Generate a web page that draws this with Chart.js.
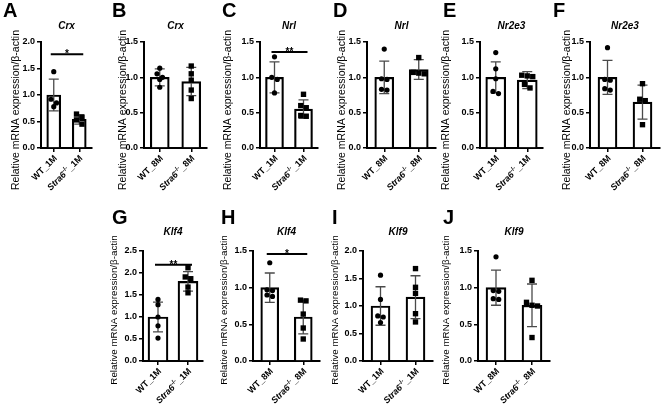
<!DOCTYPE html>
<html>
<head>
<meta charset="utf-8">
<script src="https://cdn.jsdelivr.net/npm/chart.js@4.4.1/dist/chart.umd.min.js"></script>
<style>
    html, body { margin: 0; padding: 0; background: #fff; }
    #fig { position: relative; width: 666px; height: 408px; overflow: hidden; }
    #fig canvas { position: absolute; }
</style>
</head>
<body>
<div id="fig"></div>
<script>
// panel data
const panelLetters = ["A", "B", "C", "D", "E", "F", "G", "H", "I", "J"];
const genes = ["Crx", "Crx", "Nrl", "Nrl", "Nr2e3", "Nr2e3", "Klf4", "Klf4", "Klf9", "Klf9"];
const wtLabels = ["WT_1M", "WT_8M", "WT_1M", "WT_8M", "WT_1M", "WT_8M", "WT_1M", "WT_8M", "WT_1M", "WT_8M"];
const koLabels = ["Stra6-/-_1M", "Stra6-/-_8M", "Stra6-/-_1M", "Stra6-/-_8M", "Stra6-/-_1M",
                  "Stra6-/-_8M", "Stra6-/-_1M", "Stra6-/-_8M", "Stra6-/-_1M", "Stra6-/-_8M"];
const yMax = [2.0, 1.5, 1.5, 1.5, 1.5, 1.5, 2.5, 1.5, 2.0, 1.5];
const yStep = 0.5;

const wtMean = [1.00, 1.00, 1.00, 1.00, 1.00, 1.00, 1.00, 1.00, 1.00, 1.00];
const wtSD = [0.30, 0.12, 0.22, 0.23, 0.22, 0.24, 0.34, 0.20, 0.35, 0.24];
const koMean = [0.54, 0.94, 0.55, 1.11, 0.96, 0.65, 1.81, 0.60, 1.16, 0.76];
const koSD = [0.09, 0.20, 0.13, 0.14, 0.12, 0.24, 0.22, 0.23, 0.39, 0.29];

const wtPoints = [
    [1.44, 0.92, 0.85, 0.78],
    [1.13, 1.05, 1.00, 0.97, 0.86],
    [1.29, 1.00, 0.97, 0.78],
    [1.40, 0.98, 0.97, 0.83, 0.82],
    [1.35, 1.12, 0.98, 0.80, 0.77],
    [1.42, 0.97, 0.96, 0.84, 0.82],
    [1.40, 1.28, 1.00, 0.80, 0.52],
    [1.34, 0.97, 0.96, 0.90, 0.88],
    [1.56, 1.12, 0.82, 0.80, 0.70],
    [1.42, 0.96, 0.95, 0.85, 0.84],
];
const koPoints = [
    [0.64, 0.58, 0.53, 0.45],
    [1.16, 1.05, 0.96, 0.82, 0.70],
    [0.76, 0.60, 0.57, 0.46, 0.45],
    [1.28, 1.07, 1.06, 1.05],
    [1.03, 1.02, 1.01, 0.90, 0.85],
    [0.91, 0.69, 0.67, 0.33],
    [2.12, 1.91, 1.87, 1.68, 1.55],
    [0.83, 0.82, 0.64, 0.45, 0.30],
    [1.68, 1.34, 1.23, 0.86, 0.71],
    [1.10, 0.80, 0.76, 0.75, 0.32],
];

const sigText = ["*", "", "**", "", "", "", "**", "*", "", ""];
const sigLevel = [1.77, null, 1.36, null, null, null, 2.19, 1.46, null, null];

// layout (pixels in the 666x408 figure)
const slotLeft = [0, 110, 220, 330, 440, 550, 110, 220, 330, 440];
const slotTop = [0, 0, 0, 0, 0, 0, 200, 200, 200, 200];
const axisX = [41, 144, 260, 367, 480, 590, 143, 253, 363, 478];
const axisEnd = [92, 207, 318, 436, 543, 660, 203, 320, 433, 550];
const yTitleX = [16, 123, 228, 342, 446, 567, 114, 224, 335, 446];
const letterX = [3, 112, 222, 333, 443, 553, 112, 221, 332, 443];
const barWidth = [14, 19, 18, 19, 20, 19, 20, 18, 19, 20];

const FONT = '"Liberation Sans", Arial, Helvetica, sans-serif';

function rowLayout(top) {
    return top === 0
        ? { plotTop: 42, plotBottom: 148, letterY: 17, titleY: 29, yTitleY: 110, yTitleSize: 10.5, height: 200 }
        : { plotTop: 251, plotBottom: 361, letterY: 224, titleY: 235, yTitleY: 310, yTitleSize: 9.8, height: 208 };
}

// spread points that sit on about the same height side by side
function swarm(values, pxPerVal, pxPerCat) {
    const order = values.map((v, k) => k).sort((a, b) => values[b] - values[a]);
    const offsets = new Array(values.length).fill(0);
    let row = [];
    const flush = () => {
        row.forEach((k, n) => {
            offsets[k] = (n - (row.length - 1) / 2) * 5.5 / pxPerCat;
        });
        row = [];
    };
    order.forEach(k => {
        if (row.length && (values[row[0]] - values[k]) * pxPerVal > 4.5)
            flush();
        row.push(k);
    });
    flush();
    return offsets;
}

function drawCategoryLabel(ctx, text, x, y) {
    const m = text.match(/^(Stra6)(-\/-)(.*)$/);
    ctx.save();
    ctx.translate(x, y);
    ctx.rotate(-Math.PI / 4);
    ctx.fillStyle = "#000";
    ctx.textBaseline = "middle";
    if (!m) {
        ctx.font = "bold 9px " + FONT;
        ctx.textAlign = "right";
        ctx.fillText(text, 0, 0);
        ctx.restore();
        return;
    }
    const parts = [
        { t: m[1], font: "italic bold 9px " + FONT, dy: 0 },
        { t: m[2], font: "bold 6px " + FONT, dy: -3 },
        { t: m[3], font: "bold 9px " + FONT, dy: 0 },
    ];
    let total = 0;
    parts.forEach(p => {
        ctx.font = p.font;
        p.w = ctx.measureText(p.t).width;
        total += p.w;
    });
    ctx.textAlign = "left";
    let cx = -total;
    parts.forEach(p => {
        ctx.font = p.font;
        ctx.fillText(p.t, cx, p.dy);
        cx += p.w;
    });
    ctx.restore();
}

const panelDecor = {
    id: "panelDecor",
    afterDatasetDraw(chart, args, opts) {
        if (args.index !== 0)
            return;
        const i = opts.panel;
        const ctx = chart.ctx;
        const xs = chart.scales.x, ys = chart.scales.y;
        const means = [wtMean[i], koMean[i]];
        const sds = [wtSD[i], koSD[i]];
        ctx.save();
        ctx.strokeStyle = "#4a4a4a";
        ctx.lineWidth = 1.3;
        for (let j = 0; j < 2; j++) {
            const x = xs.getPixelForValue(j);
            const y1 = ys.getPixelForValue(means[j] + sds[j]);
            const y2 = ys.getPixelForValue(means[j] - sds[j]);
            ctx.beginPath();
            ctx.moveTo(x, y1); ctx.lineTo(x, y2);
            ctx.moveTo(x - 5, y1); ctx.lineTo(x + 5, y1);
            ctx.moveTo(x - 5, y2); ctx.lineTo(x + 5, y2);
            ctx.stroke();
        }
        ctx.restore();
    },
    afterDraw(chart, args, opts) {
        const i = opts.panel;
        const ctx = chart.ctx;
        const area = chart.chartArea;
        const xs = chart.scales.x, ys = chart.scales.y;
        const L = slotLeft[i], T = slotTop[i];
        const row = rowLayout(T);

        ctx.save();
        ctx.fillStyle = "#000";
        ctx.textAlign = "left";
        ctx.textBaseline = "alphabetic";
        ctx.font = "bold 20px " + FONT;
        ctx.fillText(panelLetters[i], letterX[i] - L, row.letterY - T);

        ctx.textAlign = "center";
        ctx.font = "italic bold 10px " + FONT;
        ctx.fillText(genes[i], (area.left + area.right) / 2, row.titleY - T);

        ctx.save();
        ctx.translate(yTitleX[i] - L, row.yTitleY - T);
        ctx.rotate(-Math.PI / 2);
        ctx.textBaseline = "middle";
        ctx.font = row.yTitleSize + "px " + FONT;
        ctx.fillText("Relative mRNA expression/\u03b2-actin", 0, 0);
        ctx.restore();

        const labels = [wtLabels[i], koLabels[i]];
        labels.forEach((t, j) => {
            drawCategoryLabel(ctx, t, xs.getPixelForValue(j) + 2, area.bottom + 9);
        });

        if (sigLevel[i] !== null) {
            const y = ys.getPixelForValue(sigLevel[i]);
            const x1 = xs.getPixelForValue(0) - 3;
            const x2 = xs.getPixelForValue(1) + 4;
            ctx.strokeStyle = "#000";
            ctx.lineWidth = 2;
            ctx.beginPath();
            ctx.moveTo(x1, y); ctx.lineTo(x2, y);
            ctx.stroke();
            ctx.font = "bold 10px " + FONT;
            ctx.textAlign = "center";
            ctx.fillText(sigText[i], (x1 + x2) / 2, y + 3);
        }
        ctx.restore();
    }
};

function makePanel(i) {
    const L = slotLeft[i], T = slotTop[i];
    const row = rowLayout(T);
    const W = axisEnd[i] - L + 6, H = row.height;
    const canvas = document.createElement("canvas");
    canvas.width = W;
    canvas.height = H;
    canvas.style.left = L + "px";
    canvas.style.top = T + "px";
    document.getElementById("fig").appendChild(canvas);

    const plotW = axisEnd[i] - axisX[i];
    const plotH = row.plotBottom - row.plotTop;
    const pxPerVal = plotH / yMax[i];
    const pxPerCat = plotW / 2;
    const wtOff = swarm(wtPoints[i], pxPerVal, pxPerCat);
    const koOff = swarm(koPoints[i], pxPerVal, pxPerCat);

    new Chart(canvas.getContext("2d"), {
        type: "bar",
        data: {
            labels: [wtLabels[i], koLabels[i]],
            datasets: [
                {
                    type: "bar",
                    data: [wtMean[i], koMean[i]],
                    backgroundColor: "#fff",
                    borderColor: "#000",
                    borderWidth: 2.2,
                    borderSkipped: "bottom",
                    barThickness: barWidth[i],
                    grouped: false,
                    order: 3,
                },
                {
                    type: "scatter",
                    xAxisID: "xs",
                    data: wtPoints[i].map((v, k) => ({ x: 0 + wtOff[k], y: v })),
                    pointStyle: "circle",
                    pointRadius: 2.6,
                    backgroundColor: "#000",
                    borderWidth: 0,
                    clip: false,
                    order: 1,
                },
                {
                    type: "scatter",
                    xAxisID: "xs",
                    data: koPoints[i].map((v, k) => ({ x: 1 + koOff[k], y: v })),
                    pointStyle: "rect",
                    pointRadius: 3.8,
                    backgroundColor: "#000",
                    borderWidth: 0,
                    clip: false,
                    order: 1,
                },
            ]
        },
        options: {
            responsive: false,
            animation: false,
            devicePixelRatio: 1,
            layout: {
                padding: { top: row.plotTop - T, right: W - (axisEnd[i] - L), left: 0, bottom: 0 }
            },
            plugins: {
                legend: { display: false },
                tooltip: { enabled: false },
                panelDecor: { panel: i },
            },
            scales: {
                x: {
                    type: "category",
                    offset: true,
                    border: { color: "#000", width: 2 },
                    grid: { offset: false, drawOnChartArea: false, drawTicks: true, tickLength: 4, color: "#000", lineWidth: 1.5 },
                    ticks: { display: false },
                    afterFit: (scale) => { scale.height = H - (row.plotBottom - T); },
                },
                xs: {
                    type: "linear",
                    display: false,
                    offset: false,
                    grid: { offset: false },
                    min: -0.5,
                    max: 1.5,
                },
                y: {
                    type: "linear",
                    min: 0,
                    max: yMax[i],
                    border: { color: "#000", width: 2 },
                    grid: { drawOnChartArea: false, drawTicks: true, tickLength: 4, color: "#000", lineWidth: 1.5 },
                    ticks: {
                        stepSize: yStep,
                        padding: 2,
                        color: "#000",
                        font: { family: FONT, size: 9, weight: "bold" },
                        callback: (v) => v.toFixed(1),
                    },
                    afterFit: (scale) => { scale.width = axisX[i] - L; },
                },
            }
        },
        plugins: [panelDecor]
    });
}

for (let i = 0; i < panelLetters.length; i++)
    makePanel(i);
</script>
</body>
</html>
